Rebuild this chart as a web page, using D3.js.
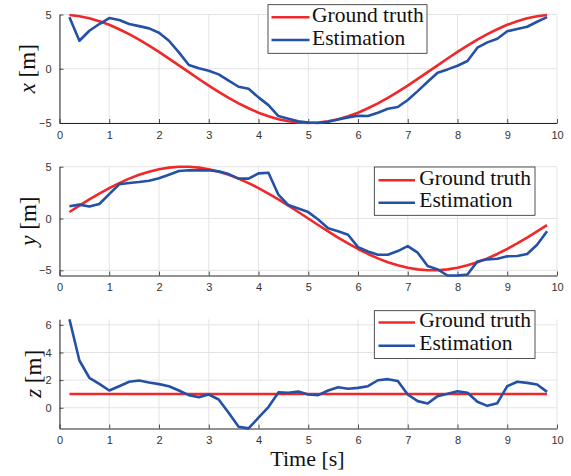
<!DOCTYPE html>
<html>
<head>
<meta charset="utf-8">
<script src="https://cdn.jsdelivr.net/npm/d3@7"></script>
<style>
  html, body { margin: 0; padding: 0; background: #fff; }
  svg { display: block; }
</style>
</head>
<body>
<svg id="chart" width="571" height="476"></svg>
<script>
// ---- data ----
const time = [0.2,0.4,0.6,0.8,1.0,1.2,1.4,1.6,1.8,2.0,2.2,2.4,2.6,2.8,3.0,3.2,3.4,3.6,3.8,4.0,
  4.2,4.4,4.6,4.8,5.0,5.2,5.4,5.6,5.8,6.0,6.2,6.4,6.6,6.8,7.0,7.2,7.4,7.6,7.8,8.0,
  8.2,8.4,8.6,8.8,9.0,9.2,9.4,9.6,9.8];

const xTruth = [4.96,4.84,4.65,4.38,4.05,3.64,3.19,2.68,2.13,1.55,0.94,0.31,-0.31,-0.94,-1.55,-2.13,-2.68,-3.19,-3.64,-4.05,
  -4.38,-4.65,-4.84,-4.96,-5.00,-4.96,-4.84,-4.65,-4.38,-4.05,-3.64,-3.19,-2.68,-2.13,-1.55,-0.94,-0.31,0.31,0.94,1.55,
  2.13,2.68,3.19,3.64,4.05,4.38,4.65,4.84,4.96];
const xEst = [4.74,2.58,3.50,4.12,4.67,4.49,4.12,3.93,3.72,3.32,2.58,1.51,0.34,0.04,-0.18,-0.52,-1.10,-1.66,-1.84,-2.64,
  -3.35,-4.36,-4.60,-4.85,-4.95,-5.00,-4.88,-4.67,-4.48,-4.33,-4.36,-4.05,-3.69,-3.53,-2.88,-2.06,-1.20,-0.37,-0.06,0.28,
  0.71,1.94,2.43,2.77,3.45,3.66,3.87,4.33,4.76];

const yTruth = [0.63,1.24,1.84,2.41,2.94,3.42,3.85,4.22,4.52,4.76,4.91,4.99,4.99,4.91,4.76,4.52,4.22,3.85,3.42,2.94,
  2.41,1.84,1.24,0.63,0.00,-0.63,-1.24,-1.84,-2.41,-2.94,-3.42,-3.85,-4.22,-4.52,-4.76,-4.91,-4.99,-4.99,-4.91,-4.76,
  -4.52,-4.22,-3.85,-3.42,-2.94,-2.41,-1.84,-1.24,-0.63];
const yEst = [1.18,1.34,1.15,1.40,2.36,3.30,3.42,3.52,3.65,3.88,4.23,4.58,4.65,4.65,4.65,4.55,4.29,3.85,3.85,4.36,
  4.42,2.30,1.30,0.96,0.62,-0.10,-0.93,-1.23,-1.57,-2.76,-3.18,-3.50,-3.50,-3.14,-2.66,-3.30,-4.58,-4.91,-5.50,-5.50,
  -5.40,-4.14,-3.94,-3.88,-3.65,-3.62,-3.43,-2.53,-1.22];

const zTruth = [1,1,1,1,1,1,1,1,1,1,1,1,1,1,1,1,1,1,1,1,
  1,1,1,1,1,1,1,1,1,1,1,1,1,1,1,1,1,1,1,1,
  1,1,1,1,1,1,1,1,1];
const zEst = [6.40,3.42,2.17,1.73,1.25,1.56,1.88,1.97,1.83,1.71,1.56,1.25,0.91,0.77,0.96,0.60,-0.36,-1.37,-1.49,-0.72,
  0.05,1.11,1.08,1.18,0.96,0.91,1.25,1.49,1.37,1.44,1.56,1.99,2.07,1.93,0.96,0.48,0.31,0.84,1.01,1.20,
  1.08,0.43,0.14,0.33,1.56,1.88,1.80,1.68,1.15];

const xTicks = [0,1,2,3,4,5,6,7,8,9,10];
const yTicksXY = [-5,0,5];
const yTicksZ = [0,2,4,6];
const seriesNames = ["Ground truth", "Estimation"];
const axisLabels = ["x", "y", "z"];
const xLabel = "Time [s]";

// ---- layout / style ----
const RED = "#f0282a", BLUE = "#2451a6", AXC = "#262626", GRID = "#e3e3e3";
const SERIF = "'Liberation Serif','Times New Roman',serif";
const SANS = "'Liberation Sans',Arial,sans-serif";
const left = 59.5, right = 557;

const panels = [
  { truth: xTruth, est: xEst, domain: [-5, 5], top: 14.5, bottom: 123, ticks: yTicksXY, label: axisLabels[0], labelX: 27,
    legend: { x0: 268, y0: 4.7, x1: 427, y1: 53.3, l0: 271.5, l1: 309.5, tx: 312, r: 17.3, b: 40 } },
  { truth: yTruth, est: yEst, domain: [-5.5, 5], top: 166.7, bottom: 275.5, ticks: yTicksXY, label: axisLabels[1], labelX: 28,
    legend: { x0: 374.3, y0: 167, x1: 535, y1: 215.3, l0: 378.5, l1: 415, tx: 419.3, r: 180.3, b: 202.7 } },
  { truth: zTruth, est: zEst, domain: [-1.5, 6.4], top: 319.3, bottom: 428.5, ticks: yTicksZ, label: axisLabels[2], labelX: 33,
    legend: { x0: 374.3, y0: 310.7, x1: 535, y1: 358.5, l0: 378.5, l1: 415, tx: 419.3, r: 322.5, b: 345.7 } }
];

const svg = d3.select("#chart");
const xScale = d3.scaleLinear().domain([0, 10]).range([left, right]);
const fmt = v => (v < 0 ? "\u2212" + Math.abs(v) : String(v));

panels.forEach(p => {
  const yScale = d3.scaleLinear().domain(p.domain).range([p.bottom, p.top]);
  const g = svg.append("g");

  // grid
  g.append("g").selectAll("line").data(xTicks).join("line")
    .attr("x1", d => xScale(d)).attr("x2", d => xScale(d))
    .attr("y1", p.top).attr("y2", p.bottom)
    .attr("stroke", GRID).attr("stroke-width", 1);
  g.append("g").selectAll("line").data(p.ticks).join("line")
    .attr("x1", left).attr("x2", right)
    .attr("y1", d => yScale(d)).attr("y2", d => yScale(d))
    .attr("stroke", GRID).attr("stroke-width", 1);

  // axes (MATLAB-like: inward ticks, box off)
  const xAxis = d3.axisBottom(xScale).tickValues(xTicks).tickSizeInner(-4).tickSizeOuter(0).tickPadding(8).tickFormat(fmt);
  const gx = g.append("g").attr("transform", `translate(0,${p.bottom})`).call(xAxis);
  const yAxis = d3.axisLeft(yScale).tickValues(p.ticks).tickSizeInner(-4).tickSizeOuter(0).tickPadding(8).tickFormat(fmt);
  const gy = g.append("g").attr("transform", `translate(${left},0)`).call(yAxis);
  [gx, gy].forEach(a => {
    a.select(".domain").attr("stroke", AXC).attr("stroke-width", 1);
    a.selectAll(".tick line").attr("stroke", AXC).attr("stroke-width", 0.8);
    a.selectAll(".tick text").attr("fill", "#333").style("font-family", SANS).style("font-size", "11px");
  });

  // lines
  const line = arr => d3.line().x((d, i) => xScale(time[i])).y(d => yScale(d))(arr);
  g.append("path").attr("d", line(p.truth)).attr("fill", "none").attr("stroke", RED)
    .attr("stroke-width", 2.6).attr("stroke-linejoin", "round");
  g.append("path").attr("d", line(p.est)).attr("fill", "none").attr("stroke", BLUE)
    .attr("stroke-width", 2.6).attr("stroke-linejoin", "round");

  // y label
  const cy = (p.top + p.bottom) / 2;
  const lab = g.append("text")
    .attr("transform", `translate(${p.labelX},${cy}) rotate(-90)`)
    .attr("text-anchor", "middle").attr("dominant-baseline", "central")
    .style("font-family", SERIF).style("font-size", "23px").attr("fill", "#111");
  lab.append("tspan").style("font-style", "italic").text(p.label);
  lab.append("tspan").text(" [m]");

  // legend
  const L = p.legend;
  const lg = g.append("g");
  lg.append("rect").attr("x", L.x0).attr("y", L.y0).attr("width", L.x1 - L.x0).attr("height", L.y1 - L.y0)
    .attr("fill", "#fff").attr("stroke", AXC).attr("stroke-width", 0.8);
  [[RED, L.r, seriesNames[0]], [BLUE, L.b, seriesNames[1]]].forEach(([c, yy, name]) => {
    lg.append("line").attr("x1", L.l0).attr("x2", L.l1).attr("y1", yy).attr("y2", yy)
      .attr("stroke", c).attr("stroke-width", 2.6);
    lg.append("text").attr("x", L.tx).attr("y", yy + 4.6)
      .style("font-family", SERIF).style("font-size", "21.5px").attr("fill", "#111").text(name);
  });
});

// x label
svg.append("text").attr("x", 307.5).attr("y", 466)
  .attr("text-anchor", "middle")
  .style("font-family", SERIF).style("font-size", "22px").attr("fill", "#111").text(xLabel);
</script>
</body>
</html>
